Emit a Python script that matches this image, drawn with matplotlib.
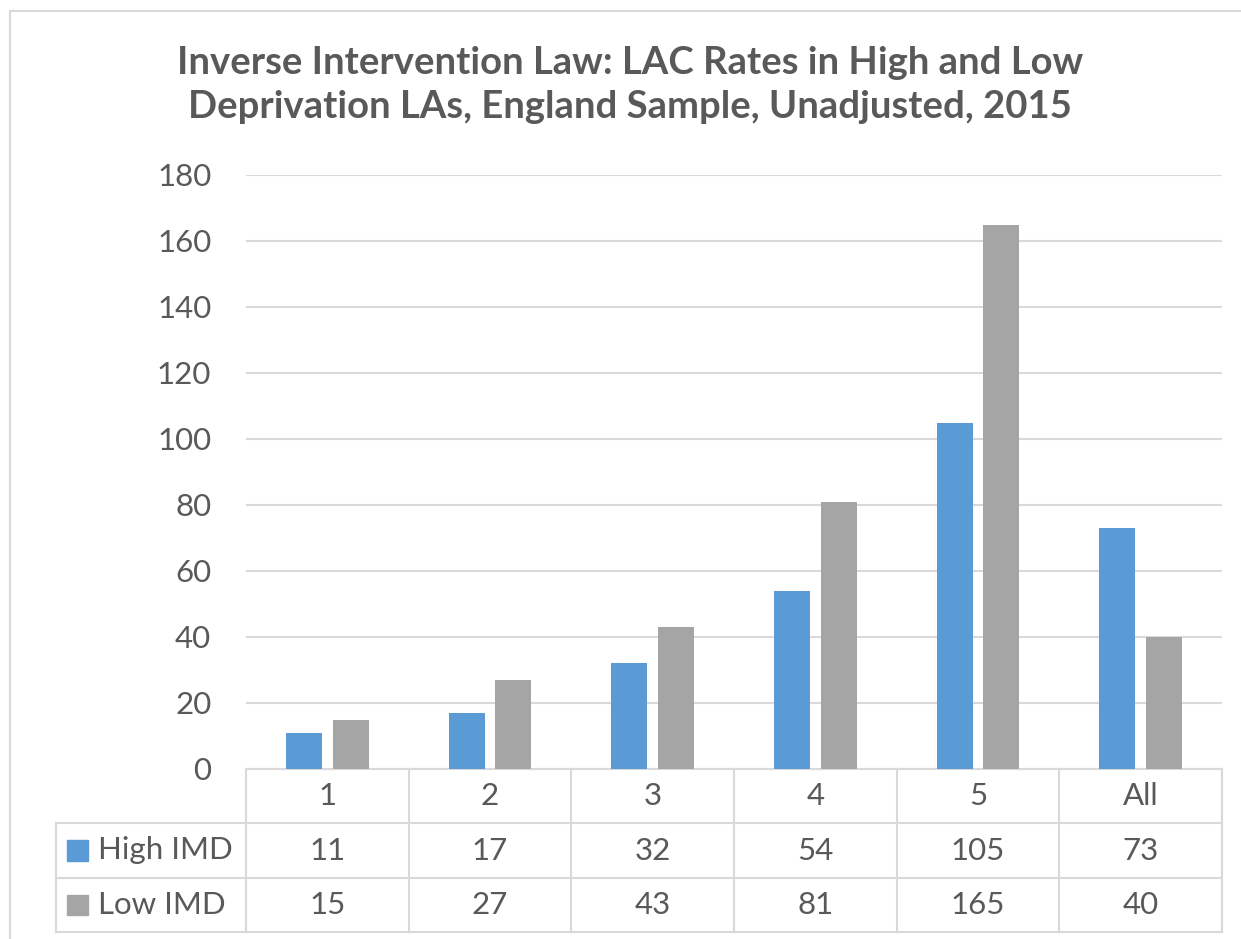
import matplotlib
matplotlib.use("Agg")
import matplotlib.pyplot as plt
from matplotlib.patches import Rectangle

# ---- data ----
categories = ["1", "2", "3", "4", "5", "All"]
high_imd = [11, 17, 32, 54, 105, 73]
low_imd = [15, 27, 43, 81, 165, 40]
series_names = ["High IMD", "Low IMD"]
title = "Inverse Intervention Law: LAC Rates in High and Low\nDeprivation LAs, England Sample, Unadjusted, 2015"
yticks = [0, 20, 40, 60, 80, 100, 120, 140, 160, 180]

# ---- style ----
W, H = 1241, 939
DPI = 100
TXT = "#595959"
GRID = "#D9D9D9"
BLUE = "#5B9BD5"
GRAY = "#A5A5A5"
FONT = "Lato"

fig = plt.figure(figsize=(W / DPI, H / DPI), dpi=DPI)
fig.patch.set_facecolor("white")

def fx(px):
    return px / W

def fy(py):
    return 1 - py / H

# chart border (extends beyond the canvas on right/bottom)
fig.add_artist(Rectangle((fx(10), fy(960)), fx(1300), (960 - 11) / H,
                         transform=fig.transFigure, fill=False,
                         edgecolor=GRID, linewidth=1.5))

plot_l, plot_r, plot_t, plot_b = 246, 1222, 175, 769
ax = fig.add_axes([fx(plot_l), fy(plot_b), fx(plot_r - plot_l), (plot_b - plot_t) / H])

n = len(categories)
x = list(range(n))
bw = 0.222
off = 0.144
ax.bar([i - off for i in x], high_imd, width=bw, color=BLUE, zorder=3)
ax.bar([i + off for i in x], low_imd, width=bw, color=GRAY, zorder=3)

ax.set_xlim(-0.5, n - 0.5)
ax.set_ylim(0, 180)
ax.set_yticks(yticks)
ax.set_yticklabels([str(t) for t in yticks], fontsize=22.5, color=TXT, family=FONT)
ax.tick_params(axis="y", length=0, pad=25)
ax.set_xticks([])
ax.grid(axis="y", color=GRID, linewidth=1.5, zorder=0)
for s in ["top", "right", "left"]:
    ax.spines[s].set_visible(False)
ax.spines["bottom"].set_color(GRID)
ax.spines["bottom"].set_linewidth(1.5)

# ---- data table ----
tab_l, tab_t, tab_b = 55.7, 769, 932
col_w_px = (plot_r - plot_l) / n
label_w = (plot_l - tab_l) / col_w_px
tax = fig.add_axes([fx(tab_l), fy(tab_b), fx(plot_r - tab_l), (tab_b - tab_t) / H])
tax.set_xlim(-0.5 - label_w, n - 0.5)
tax.set_ylim(3, 0)
tax.axis("off")

lw = 1.5
for yy in [1, 2, 3]:
    tax.plot([-0.5 - label_w, n - 0.5], [yy, yy], color=GRID, lw=lw, clip_on=False)
tax.plot([-0.5 - label_w, -0.5 - label_w], [1, 3], color=GRID, lw=lw, clip_on=False)
for i in range(n + 1):
    tax.plot([i - 0.5, i - 0.5], [0, 3], color=GRID, lw=lw, clip_on=False)

fs = 22.5
for i, c in enumerate(categories):
    tax.text(i, 0.5, c, ha="center", va="center", fontsize=fs, color=TXT, family=FONT)
    tax.text(i, 1.5, str(high_imd[i]), ha="center", va="center", fontsize=fs, color=TXT, family=FONT)
    tax.text(i, 2.5, str(low_imd[i]), ha="center", va="center", fontsize=fs, color=TXT, family=FONT)

# legend keys + row labels
key_w = 21 / col_w_px
key_x = -0.5 - label_w + (67 - tab_l) / col_w_px
for r, (name, col) in enumerate(zip(series_names, [BLUE, GRAY])):
    yc = 1.5 + r
    tax.add_patch(Rectangle((key_x, yc - 0.19), key_w, 0.38, color=col, clip_on=False))
    tax.text(key_x + key_w + 10 / col_w_px, yc, name, ha="left", va="center",
             fontsize=fs, color=TXT, family=FONT)

# ---- title ----
fig.text(fx(630), fy(85), title, ha="center", va="center", fontsize=27.5,
         fontweight="bold", color=TXT, family=FONT, linespacing=1.33)

fig.savefig("out.png", dpi=DPI, facecolor="white")
